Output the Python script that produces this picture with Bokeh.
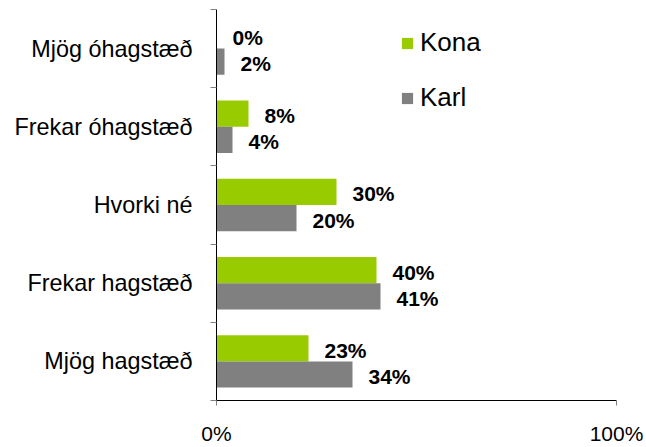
from bokeh.plotting import figure
from bokeh.models import Range1d, FixedTicker, Legend, LegendItem, ColumnDataSource
from bokeh.embed import file_html
from bokeh.resources import INLINE
from bokeh.core.properties import value

categories = ["Mjög óhagstæð", "Frekar óhagstæð", "Hvorki né", "Frekar hagstæð", "Mjög hagstæð"]
kona = [0, 8, 30, 40, 23]
karl = [2, 4, 20, 41, 34]
x_ticks = [0, 100]
x_tick_labels = ["0%", "100%"]
series_names = ["Kona", "Karl"]
colors = ["#99CC00", "#808080"]

FONT = "Liberation Sans"
n = len(categories)
centers = [n - i - 0.5 for i in range(n)]
bar_h = 0.335
kona_y = [c + bar_h / 2 for c in centers]
karl_y = [c - bar_h / 2 for c in centers]

src_kona = ColumnDataSource(dict(y=kona_y, v=kona, t=[f"{v}%" for v in kona]))
src_karl = ColumnDataSource(dict(y=karl_y, v=karl, t=[f"{v}%" for v in karl]))

p = figure(width=646, height=447, x_range=Range1d(0, 100), y_range=Range1d(0, n),
           output_backend="svg", toolbar_location=None,
           min_border_left=216, min_border_right=30, min_border_top=9, min_border_bottom=46,
           background_fill_color="white", border_fill_color="white")
p.outline_line_color = None
p.grid.visible = False

r_kona = p.hbar(y="y", right="v", left=0, height=bar_h, source=src_kona,
                fill_color=colors[0], line_color=None)
r_karl = p.hbar(y="y", right="v", left=0, height=bar_h, source=src_karl,
                fill_color=colors[1], line_color=None)

for src in (src_kona, src_karl):
    p.text(x="v", y="y", text="t", source=src, x_offset=16, y_offset=2,
           text_font=value(FONT), text_font_style="bold", text_font_size="21px",
           text_baseline="middle", text_align="left", text_color="black")

# y axis
ya = p.yaxis[0]
ya.ticker = FixedTicker(ticks=centers, minor_ticks=list(range(n + 1)))
ya.major_label_overrides = {c: name for c, name in zip(centers, categories)}
ya.major_tick_line_color = None
ya.major_tick_out = 0
ya.major_tick_in = 0
ya.minor_tick_line_color = "#808080"
ya.minor_tick_out = 6
ya.minor_tick_in = 0
ya.axis_line_color = "black"
ya.major_label_standoff = 18
ya.major_label_text_font = FONT
ya.major_label_text_font_size = "23.4px"
ya.major_label_text_color = "black"

# x axis
xa = p.xaxis[0]
xa.ticker = FixedTicker(ticks=x_ticks, minor_ticks=[])
xa.major_label_overrides = {t: l for t, l in zip(x_ticks, x_tick_labels)}
xa.major_tick_line_color = "#808080"
xa.major_tick_out = 5
xa.major_tick_in = 0
xa.minor_tick_line_color = None
xa.axis_line_color = "black"
xa.major_label_standoff = 16
xa.major_label_text_font = FONT
xa.major_label_text_font_size = "21px"
xa.major_label_text_color = "black"

legend = Legend(items=[LegendItem(label=series_names[0], renderers=[r_kona]),
                       LegendItem(label=series_names[1], renderers=[r_karl])],
                location=(184, 287), orientation="vertical",
                glyph_width=14, glyph_height=14, label_standoff=6,
                label_text_font=FONT, label_text_font_size="26px", label_text_color="black",
                spacing=24, padding=0, margin=0,
                border_line_color=None, background_fill_alpha=0)
p.add_layout(legend)

open("out.html", "w").write(file_html(p, INLINE))
